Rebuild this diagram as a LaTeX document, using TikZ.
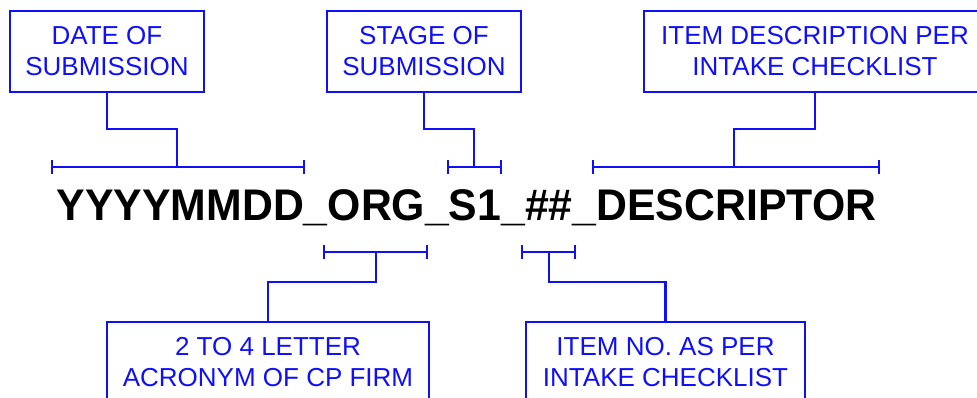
\documentclass[tikz,border=0pt]{standalone}
\usepackage{fontspec}
\setmainfont{Liberation Sans}
\definecolor{lblue}{RGB}{15,15,250}
\begin{document}
\begin{tikzpicture}[x=1pt,y=-1pt,
  lbl/.style={draw=lblue,line width=2.2pt,text=lblue,align=center,inner sep=0pt,
    font=\fontsize{26}{31}\selectfont},
  conn/.style={draw=lblue,line width=2.2pt},
  tick/.style={draw=lblue,line width=2.2pt}]
\useasboundingbox (0,0) rectangle (977,397);
\clip (0,0) rectangle (977,397);
% main text
\node[anchor=base,inner sep=0pt,font=\fontsize{43}{50}\bfseries] (main) at (466.5,220)
  {\scalebox{0.995}[1.03]{YYYYMMDD\_ORG\_S1\_\#\#\_DESCRIPTOR}};
% boxes
\node[lbl,minimum width=194pt,minimum height=81pt] (date) at (107,51.5) {DATE OF\\SUBMISSION};
\node[lbl,minimum width=194pt,minimum height=81pt] (stage) at (424,51.5) {STAGE OF\\SUBMISSION};
\node[lbl,minimum width=342pt,minimum height=81pt] (desc) at (815,51.5) {ITEM DESCRIPTION PER\\INTAKE CHECKLIST};
\node[lbl,minimum width=322pt,minimum height=80pt] (org) at (268,362) {2 TO 4 LETTER\\ACRONYM OF CP FIRM};
\node[lbl,minimum width=279pt,minimum height=80pt] (num) at (665.5,362) {ITEM NO. AS PER\\INTAKE CHECKLIST};
% bracket coordinates
\coordinate (b1l) at (52,167); \coordinate (b1r) at (304,167); \coordinate (b1m) at (177,167);
\coordinate (b2l) at (448,167); \coordinate (b2r) at (501,167); \coordinate (b2m) at (474,167);
\coordinate (b3l) at (593,167); \coordinate (b3r) at (879,167); \coordinate (b3m) at (734,167);
\coordinate (b4l) at (324,252); \coordinate (b4r) at (427,252); \coordinate (b4m) at (376,252);
\coordinate (b5l) at (522,252); \coordinate (b5r) at (575,252); \coordinate (b5m) at (549,252);
% brackets
\foreach \b in {b1,b2,b3,b4,b5}{
  \draw[tick] (\b l) -- (\b r);
  \draw[tick] ([yshift=-7pt]\b l) -- ([yshift=7pt]\b l);
  \draw[tick] ([yshift=-7pt]\b r) -- ([yshift=7pt]\b r);
}
% connectors
\draw[conn] (date.south) -- ++(0,36) -| (b1m);
\draw[conn] (stage.south) -- ++(0,36) -| (b2m);
\draw[conn] (desc.south) -- ++(0,36) -| (b3m);
\draw[conn] (org.north) -- ++(0,-39) -| (b4m);
\draw[conn] (num.north) -- ++(0,-39) -| (b5m);
\end{tikzpicture}
\end{document}
